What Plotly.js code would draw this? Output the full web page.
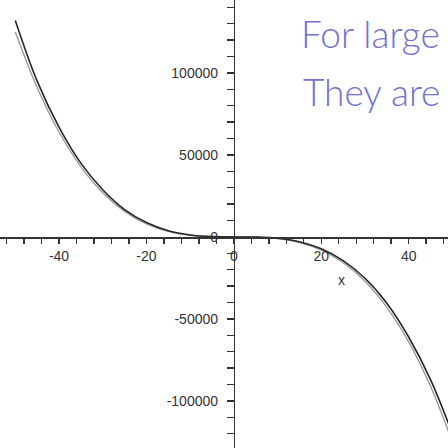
<!DOCTYPE html>
<html>
<head>
<meta charset="utf-8">
<script src="https://cdn.plot.ly/plotly-3.0.1.min.js"></script>
<style>
  html, body { margin: 0; padding: 0; background: #fff; }
  #plot { width: 448px; height: 448px; }
</style>
</head>
<body>
<div id="plot"></div>
<script>
// sample x positions
const xValues = [-50, -45, -40, -35, -30, -25, -20, -15, -10, -5, 0, 5, 10, 15, 20, 25, 30, 35, 40, 45, 50];
// dark curve
const darkCurve = [132000, 95000, 67000, 45000, 28800, 16700, 8800, 3800, 1200, 180, 0, -80, -800, -2900, -7200, -14400, -25200, -40400, -61000, -87000, -120000];
// light grey curve
const greyCurve = [125000, 91100, 64000, 42900, 27000, 15600, 8000, 3400, 1000, 125, 0, -125, -1000, -3400, -8000, -15600, -27000, -42900, -64000, -91100, -125000];

const xTickVals = [-40, -20, 0, 20, 40];
const xTickText = ['-40', '-20', '0', '20', '40'];
const yTickVals = [-100000, -50000, 0, 50000, 100000];
const yTickText = ['-100000', '-50000', '0', '50000', '100000'];

const noteLine1 = 'For large';
const noteLine2 = 'They are';

const xRange = [-53.5, 49];
const yRange = [-128700, 144500];

const traces = [
  { x: xValues, y: greyCurve, mode: 'lines', line: { color: '#9a9a9a', width: 1.4, shape: 'spline' }, hoverinfo: 'skip' },
  { x: xValues, y: darkCurve, mode: 'lines', line: { color: '#262626', width: 1.6, shape: 'spline' }, hoverinfo: 'skip' }
];

const tickFont = { family: 'Liberation Sans, Arial, sans-serif', size: 14, color: '#333' };
const hand = { family: 'Lato, sans-serif', size: 37, color: '#7272cf', weight: 300 };

const layout = {
  width: 448, height: 448,
  margin: { l: 0, r: 0, t: 0, b: 0 },
  paper_bgcolor: '#fff', plot_bgcolor: '#fff',
  showlegend: false,
  xaxis: {
    range: xRange, anchor: 'free',
    position: (0 - yRange[0]) / (yRange[1] - yRange[0]),
    showgrid: false, zeroline: false,
    showline: true, linecolor: '#333', linewidth: 1.6,
    tickmode: 'array', tickvals: xTickVals, ticktext: xTickText,
    ticks: 'outside', ticklen: 5, tickwidth: 1.4, tickcolor: '#333',
    ticklabelstandoff: 1,
    minor: { dtick: 4, tick0: 0, ticks: 'outside', ticklen: 5, tickwidth: 1.4, tickcolor: '#333', showgrid: false },
    tickfont: tickFont
  },
  yaxis: {
    range: yRange, anchor: 'free',
    position: (0 - xRange[0]) / (xRange[1] - xRange[0]),
    showgrid: false, zeroline: false,
    showline: true, linecolor: '#333', linewidth: 1.6,
    tickmode: 'array', tickvals: yTickVals, ticktext: yTickText,
    ticks: 'outside', ticklen: 7, tickwidth: 1.4, tickcolor: '#333',
    ticklabelstandoff: 6,
    minor: { dtick: 10000, tick0: 0, ticks: 'outside', ticklen: 7, tickwidth: 1.4, tickcolor: '#333', showgrid: false },
    tickfont: tickFont
  },
  annotations: [
    { text: 'x', xref: 'paper', yref: 'paper', x: 341 / 448, y: 1 - 280 / 448,
      showarrow: false, font: tickFont, xanchor: 'center', yanchor: 'middle' },
    { text: noteLine1, xref: 'paper', yref: 'paper', x: 442 / 448, y: 1 - 33 / 448,
      showarrow: false, font: hand, xanchor: 'right', yanchor: 'middle' },
    { text: noteLine2, xref: 'paper', yref: 'paper', x: 442 / 448, y: 1 - 92 / 448,
      showarrow: false, font: hand, xanchor: 'right', yanchor: 'middle' }
  ]
};

Plotly.newPlot('plot', traces, layout, { staticPlot: true, displayModeBar: false });
</script>
</body>
</html>
